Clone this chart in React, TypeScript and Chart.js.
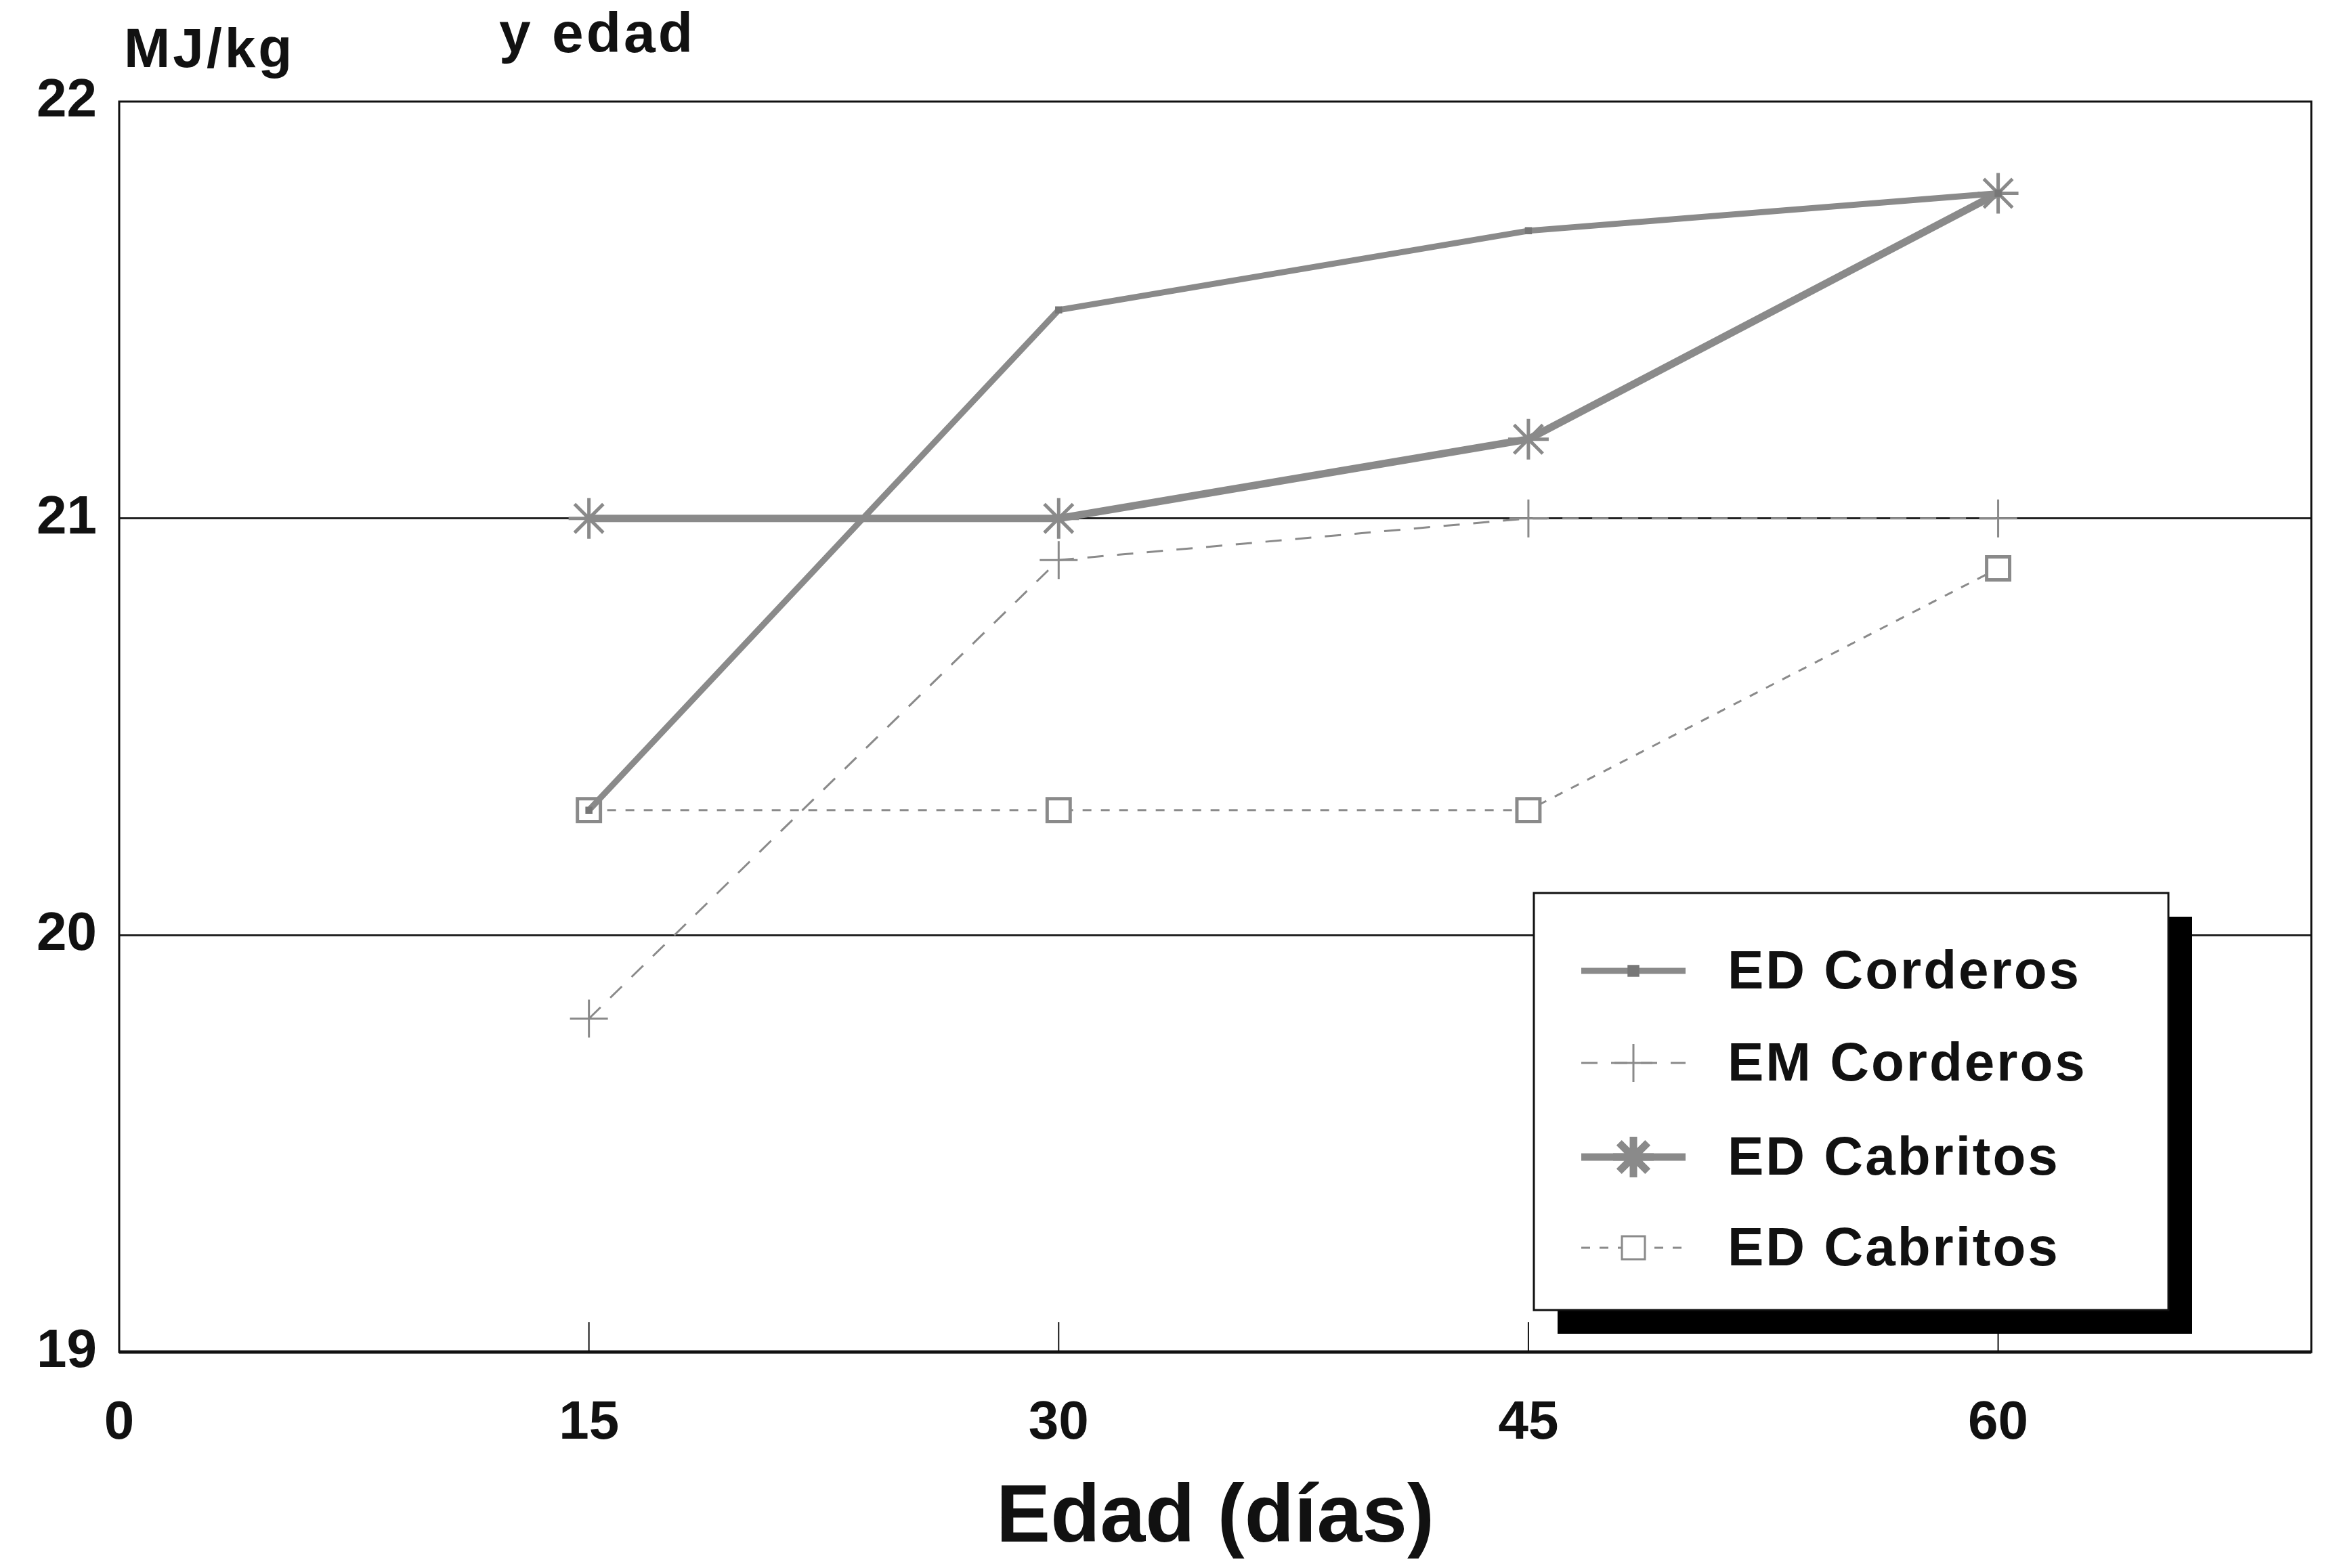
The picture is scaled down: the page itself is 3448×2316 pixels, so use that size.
import React, { useEffect, useRef } from "react";
import { Chart, registerables } from "chart.js";
import { drawPoint } from "chart.js/helpers";

Chart.register(...registerables);

const days = [15, 30, 45, 60];
const edCorderos = [20.3, 21.5, 21.69, 21.78];
const emCorderos = [19.8, 20.9, 21.0, 21.0];
const edCabritos = [21.0, 21.0, 21.19, 21.78];
const edCabritos2 = [20.3, 20.3, 20.3, 20.88];
const seriesLabels = ["ED Corderos", "EM Corderos", "ED Cabritos", "ED Cabritos"];
const xTicks = [0, 15, 30, 45, 60];
const yTicks = [19, 20, 21, 22];

const GRAY = "#8a8a8a";
const FONT = "'Liberation Sans', Arial, sans-serif";

const toPts = (vals: number[]) => vals.map((v, i) => ({ x: days[i], y: v }));

const frame = {
  id: "frame",
  afterDatasetsDraw(chart: any) {
    const { ctx, chartArea: a } = chart;
    const xs = chart.scales.x;
    ctx.save();
    ctx.strokeStyle = "#111";
    ctx.lineWidth = 3;
    ctx.strokeRect(a.left, a.top, a.right - a.left, a.bottom - a.top);
    ctx.lineWidth = 5;
    ctx.beginPath();
    ctx.moveTo(a.left, a.bottom);
    ctx.lineTo(a.right, a.bottom);
    ctx.stroke();
    ctx.lineWidth = 2;
    for (const t of xTicks) {
      if (t === 0) continue;
      const px = xs.getPixelForValue(t);
      ctx.beginPath();
      ctx.moveTo(px, a.bottom);
      ctx.lineTo(px, a.bottom - 44);
      ctx.stroke();
    }
    ctx.restore();
  },
};

const legendBox = {
  id: "legendBox",
  afterDraw(chart: any) {
    const { ctx } = chart;
    const L = 2265, T = 1319, R = 3202, B = 1935, off = 35;
    ctx.save();
    ctx.fillStyle = "#000";
    ctx.fillRect(L + off, T + off, R - L, B - T);
    ctx.fillStyle = "#fff";
    ctx.fillRect(L, T, R - L, B - T);
    ctx.strokeStyle = "#111";
    ctx.lineWidth = 3;
    ctx.strokeRect(L, T, R - L, B - T);
    const rows = [1434, 1570, 1709, 1843];
    chart.data.datasets.forEach((ds: any, i: number) => {
      const y = rows[i];
      ctx.save();
      ctx.strokeStyle = ds.borderColor;
      ctx.lineWidth = ds.borderWidth;
      ctx.setLineDash(ds.borderDash || []);
      ctx.beginPath();
      ctx.moveTo(2335, y);
      ctx.lineTo(2489, y);
      ctx.stroke();
      ctx.setLineDash([]);
      ctx.fillStyle = ds.pointBackgroundColor;
      ctx.strokeStyle = ds.pointBorderColor;
      drawPoint(ctx, { pointStyle: ds.pointStyle, radius: ds.pointRadius, rotation: 0, borderWidth: ds.pointBorderWidth }, 2412, y);
      ctx.restore();
      ctx.fillStyle = "#111";
      ctx.font = `bold 80px ${FONT}`;
      (ctx as any).letterSpacing = "3px";
      ctx.textAlign = "left";
      ctx.textBaseline = "middle";
      ctx.fillText(ds.label, 2551, y + 4);
    });
    ctx.restore();
  },
};

const extraText = {
  id: "extraText",
  afterDraw(chart: any) {
    const { ctx } = chart;
    ctx.save();
    ctx.fillStyle = "#111";
    ctx.textAlign = "left";
    ctx.textBaseline = "alphabetic";
    (ctx as any).letterSpacing = "4px";
    ctx.font = `bold 82px ${FONT}`;
    ctx.fillText("MJ/kg", 183, 99);
    ctx.font = `bold 84px ${FONT}`;
    ctx.fillText("y edad", 737, 77);
    ctx.restore();
  },
};

export default function App() {
  const ref = useRef<HTMLCanvasElement>(null);
  useEffect(() => {
    if (!ref.current) return;
    const chart = new Chart(ref.current, {
      type: "line",
      data: {
        datasets: [
          {
            label: seriesLabels[0],
            data: toPts(edCorderos),
            borderColor: GRAY,
            borderWidth: 9,
            pointStyle: "rect",
            pointRadius: 6,
            pointBackgroundColor: "#777",
            pointBorderColor: "#777",
            pointBorderWidth: 2,
          },
          {
            label: seriesLabels[1],
            data: toPts(emCorderos),
            borderColor: GRAY,
            borderWidth: 3,
            borderDash: [24, 20],
            pointStyle: "cross",
            pointRadius: 28,
            pointBackgroundColor: GRAY,
            pointBorderColor: GRAY,
            pointBorderWidth: 3,
          },
          {
            label: seriesLabels[2],
            data: toPts(edCabritos),
            borderColor: GRAY,
            borderWidth: 11,
            pointStyle: "star",
            pointRadius: 30,
            pointBackgroundColor: GRAY,
            pointBorderColor: GRAY,
            pointBorderWidth: 5,
          },
          {
            label: seriesLabels[3],
            data: toPts(edCabritos2),
            borderColor: GRAY,
            borderWidth: 3,
            borderDash: [13, 14],
            pointStyle: "rect",
            pointRadius: 24,
            pointBackgroundColor: "#fff",
            pointBorderColor: GRAY,
            pointBorderWidth: 5,
          },
        ] as any,
      },
      options: {
        responsive: false,
        animation: false,
        devicePixelRatio: 1,
        layout: { padding: { left: 0, top: 150, right: 35, bottom: 0 } },
        plugins: { legend: { display: false }, tooltip: { enabled: false } },
        elements: { line: { tension: 0 } },
        scales: {
          x: {
            type: "linear",
            min: 0,
            max: 70,
            afterBuildTicks: (s: any) => {
              s.ticks = xTicks.map((v) => ({ value: v }));
            },
            afterFit: (s: any) => {
              s.height = 319;
            },
            grid: { display: false, drawTicks: false },
            border: { display: false },
            ticks: {
              color: "#111",
              font: { family: FONT, size: 80, weight: "bold" },
              padding: 58,
              maxRotation: 0,
            },
            title: {
              display: true,
              text: "Edad (días)",
              color: "#111",
              font: { family: FONT, size: 120, weight: "bold" },
              padding: 0,
            },
          },
          y: {
            type: "linear",
            min: 19,
            max: 22,
            afterBuildTicks: (s: any) => {
              s.ticks = yTicks.map((v) => ({ value: v }));
            },
            afterFit: (s: any) => {
              s.width = 176;
            },
            grid: {
              drawTicks: false,
              color: (c: any) => (c.tick && (c.tick.value === 20 || c.tick.value === 21) ? "#222" : "rgba(0,0,0,0)"),
              lineWidth: 3,
            },
            border: { display: false },
            ticks: {
              color: "#111",
              font: { family: FONT, size: 80, weight: "bold" },
              padding: 33,
            },
          },
        },
      } as any,
      plugins: [frame, legendBox, extraText],
    });
    return () => chart.destroy();
  }, []);
  return (
    <div style={{ position: "fixed", left: 0, top: 0, width: 3448, height: 2316, background: "#fff" }}>
      <canvas ref={ref} width={3448} height={2316} style={{ width: 3448, height: 2316, display: "block" }} />
    </div>
  );
}
